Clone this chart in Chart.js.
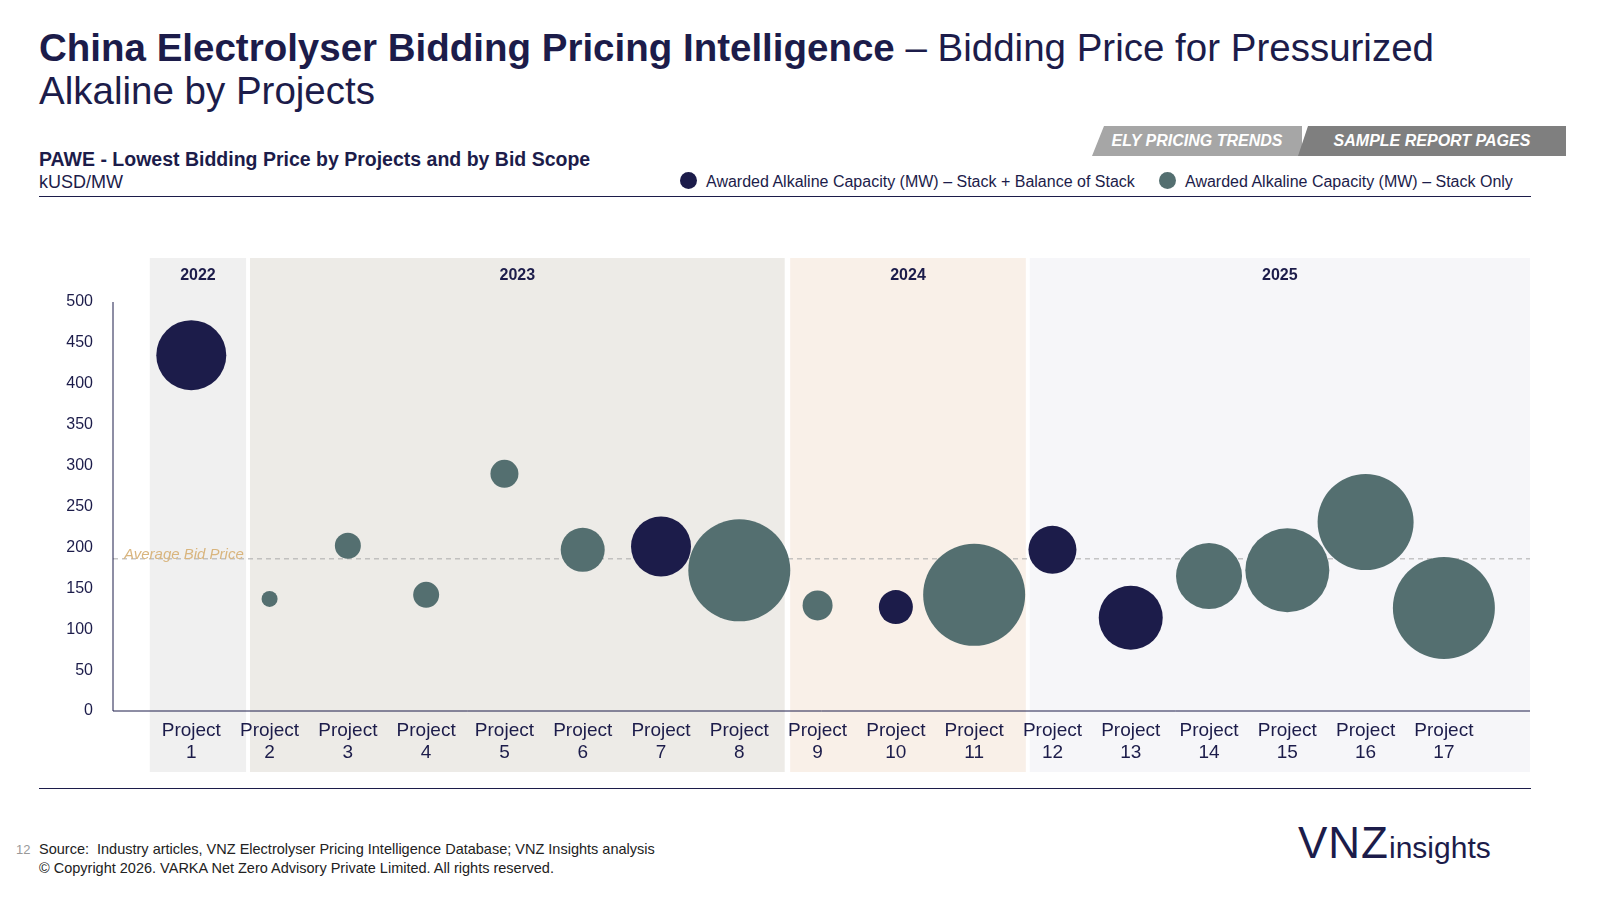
<!DOCTYPE html>
<html><head><meta charset="utf-8">
<script src="https://cdn.jsdelivr.net/npm/chart.js@4"></script>
<style>
body{margin:0;width:1606px;height:906px;background:#fff;font-family:"Liberation Sans",Arial,sans-serif;color:#1c1c4a;position:relative;overflow:hidden}
.abs{position:absolute}
#title{left:39px;top:26px;font-size:38.5px;line-height:43px;width:1440px}
.tag{top:126px;height:30px;line-height:30px;color:#fff;font-weight:bold;font-style:italic;font-size:16px;text-align:center}
.leg{top:172px;font-size:16px;color:#1c1c4a}
.dot{display:inline-block;width:17px;height:17px;border-radius:50%;vertical-align:-2px;margin-right:9px}
</style></head><body>
<div class="abs" id="title"><b>China Electrolyser Bidding Pricing Intelligence</b> – Bidding Price for Pressurized Alkaline by Projects</div>
<div class="abs tag" style="left:1092px;width:210px;background:#a6a6a6;clip-path:polygon(12px 0,100% 0,100% 100%,0 100%)">ELY PRICING TRENDS</div>
<div class="abs tag" style="left:1298px;width:268px;background:#7f7f7f;clip-path:polygon(10px 0,100% 0,100% 100%,0 100%)">SAMPLE REPORT PAGES</div>
<div class="abs" style="left:39px;top:148px;font-size:19.5px;font-weight:bold">PAWE - Lowest Bidding Price by Projects and by Bid Scope</div>
<div class="abs" style="left:39px;top:172px;font-size:18px">kUSD/MW</div>
<div class="abs leg" style="left:680px"><span class="dot" style="background:#1c1c4a"></span>Awarded Alkaline Capacity (MW) – Stack + Balance of Stack</div>
<div class="abs leg" style="left:1159px"><span class="dot" style="background:#546f70"></span>Awarded Alkaline Capacity (MW) – Stack Only</div>
<div class="abs" style="left:39px;top:196px;width:1492px;height:1px;background:#1c1c4a"></div>
<div class="abs" style="left:39px;top:788px;width:1492px;height:1px;background:#1c1c4a"></div>
<div class="abs" style="left:16px;top:842px;font-size:13px;color:#999">12</div>
<div class="abs" style="left:39px;top:840px;font-size:14.5px;color:#222;line-height:19px">Source:&nbsp; Industry articles, VNZ Electrolyser Pricing Intelligence Database; VNZ Insights analysis<br>© Copyright 2026. VARKA Net Zero Advisory Private Limited. All rights reserved.</div>
<div class="abs" style="left:1298px;top:818px;font-size:44px;color:#1c1c4a;letter-spacing:1px">VNZ<span style="font-size:30px;letter-spacing:0">insights</span></div>
<div class="abs" style="left:40px;top:250px;width:1541px;height:530px"><canvas id="c"></canvas></div>
<script>
const projects = ['1','2','3','4','5','6','7','8','9','10','11','12','13','14','15','16','17'];
const price = [435,137,202,142,290,197,201,172,129,127,142,197,114,165,172,231,126];
const bubbleSize = [35,8,13,13,14,22,30,51,15,17,51,24,32,33,42,48,51];
const scope = ['full','stack','stack','stack','stack','stack','full','stack','stack','full','stack','full','full','stack','stack','stack','stack'];
const avgPrice = 186;
const years = ['2022','2023','2024','2025'];
const yearFrom = [0.47,1.75,8.65,11.71];
const yearTo = [1.70,8.58,11.66,18.1];
const yearFill = ['#f0f0f0','#edebe7','#f9f0e8','#f6f6f9'];

function series(kind){
  return projects.map((p,i)=>scope[i]===kind?{x:i+1,y:price[i],r:bubbleSize[i]}:null).filter(Boolean);
}

const bands = {
  id:'bands',
  beforeDraw(ch){
    const {ctx,chartArea:a,scales:{x}} = ch;
    ctx.save();
    years.forEach((yr,i)=>{
      const l=x.getPixelForValue(yearFrom[i]), r=x.getPixelForValue(yearTo[i]);
      ctx.fillStyle=yearFill[i];
      ctx.fillRect(l,8,r-l,a.bottom+61-8);
      ctx.fillStyle='#1c1c4a';ctx.font='bold 16px "Liberation Sans",Arial';
      ctx.textAlign='center';ctx.fillText(yr,(l+r)/2,30);
    });
    ctx.restore();
  },
  beforeDatasetsDraw(ch){
    const {ctx,chartArea:a,scales:{y}} = ch;
    ctx.save();
    const yy=y.getPixelForValue(avgPrice);
    ctx.setLineDash([5,4]);ctx.strokeStyle='#aaa';ctx.lineWidth=1;
    ctx.beginPath();ctx.moveTo(a.left,yy);ctx.lineTo(a.right,yy);ctx.stroke();
    ctx.setLineDash([]);
    ctx.fillStyle='#d9b57e';ctx.font='italic 15px "Liberation Sans",Arial';ctx.textAlign='left';
    ctx.fillText('Average Bid Price',a.left+11,yy);
    ctx.strokeStyle='#1c1c4a';
    ctx.beginPath();ctx.moveTo(a.left,a.top);ctx.lineTo(a.left,a.bottom);ctx.lineTo(a.right,a.bottom);ctx.stroke();
    ctx.restore();
  }
};

new Chart(document.getElementById('c'),{
  type:'bubble',
  data:{datasets:[
    {label:'Stack + Balance of Stack',data:series('full'),backgroundColor:'#1c1c4a',borderWidth:0},
    {label:'Stack Only',data:series('stack'),backgroundColor:'#546f70',borderWidth:0}
  ]},
  options:{
    responsive:true,maintainAspectRatio:false,animation:false,
    layout:{padding:{top:52,right:10,left:0,bottom:0}},
    plugins:{legend:{display:false},tooltip:{enabled:false}},
    scales:{
      x:{type:'linear',min:0,max:18.1,grid:{display:false},border:{display:false},
        afterFit(s){s.height=69;},
        ticks:{stepSize:1,autoSkip:false,maxRotation:0,color:'#1c1c4a',font:{size:19,family:'"Liberation Sans",Arial'},padding:0,
          callback:v=>(v>=1&&v<=17&&Number.isInteger(v))?['Project',String(v)]:''}},
      y:{min:0,max:500,grid:{display:false},border:{display:false},
        afterFit(s){s.width=73;},
        ticks:{stepSize:50,color:'#1c1c4a',font:{size:16,family:'"Liberation Sans",Arial'},padding:12}}
    }
  },
  plugins:[bands]
});
</script>
</body></html>
